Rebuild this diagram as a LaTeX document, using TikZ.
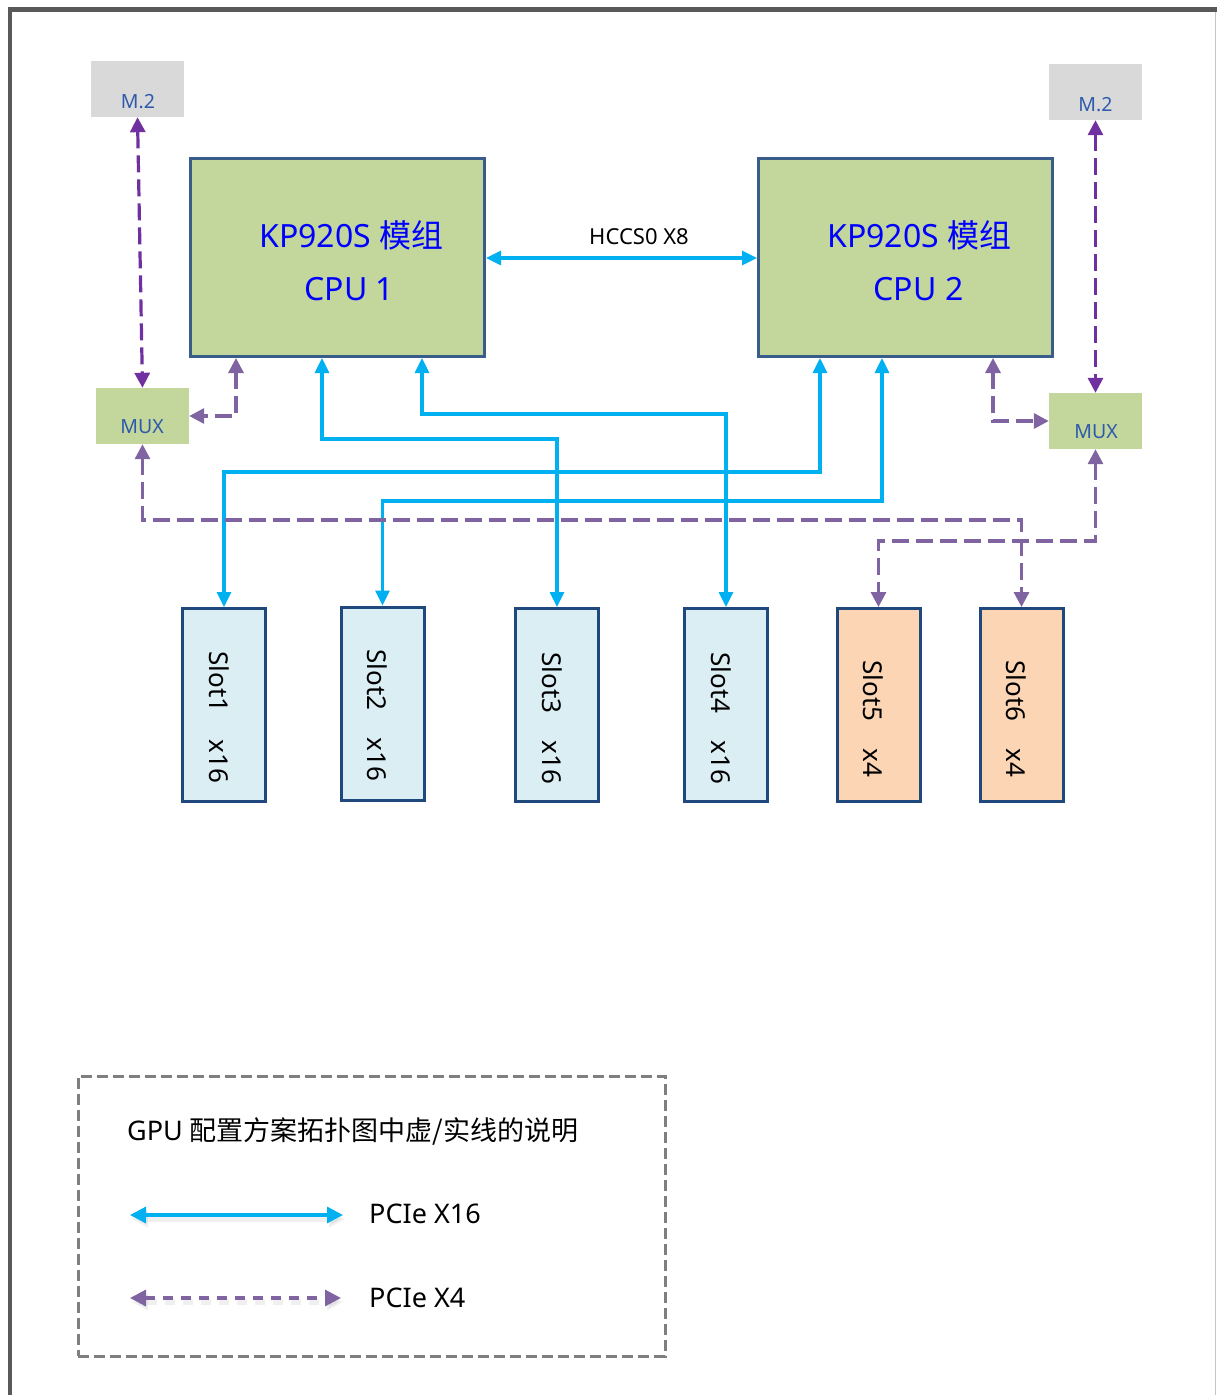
\documentclass[tikz,border=0pt]{standalone}
\usepackage{fontspec}
\setmainfont{Noto Sans}
\newfontfamily\cjk{Noto Sans CJK SC}
\usetikzlibrary{arrows.meta,calc}
\definecolor{cyanl}{HTML}{00B0F0}
\definecolor{purl}{HTML}{8064A2}
\definecolor{purd}{HTML}{7030A0}
\definecolor{cpufill}{HTML}{C3D69B}
\definecolor{cpuborder}{HTML}{385D8A}
\definecolor{m2fill}{HTML}{D9D9D9}
\definecolor{lblblue}{HTML}{2E5AAC}
\definecolor{slotfill}{HTML}{DBEEF4}
\definecolor{slotfillb}{HTML}{FCD5B5}
\definecolor{slotborder}{HTML}{1F497D}
\definecolor{framegray}{HTML}{595959}
\definecolor{leggray}{HTML}{7F7F7F}
\tikzset{
  cpubox/.style={draw=cpuborder, line width=3pt, fill=cpufill, minimum width=294pt, minimum height=198pt, inner sep=0pt},
  greybox/.style={fill=m2fill, minimum width=93pt, minimum height=56pt, inner sep=0pt},
  muxbox/.style={fill=cpufill, minimum width=93pt, minimum height=56pt, inner sep=0pt},
  slotbox/.style={draw=slotborder, line width=3pt, fill=slotfill, minimum width=83pt, minimum height=193pt, inner sep=0pt},
  slotboxb/.style={slotbox, fill=slotfillb},
  smalllbl/.style={text=lblblue, font=\fontsize{19.5}{22}\selectfont, anchor=base, inner sep=0pt},
  cputxt/.style={text=blue, font=\fontsize{32}{38}\selectfont, anchor=base, inner sep=0pt},
  linklbl/.style={font=\fontsize{22}{26}\selectfont, anchor=base, inner sep=0pt},
  slottxt/.style={rotate=-90, font=\fontsize{26}{30}\selectfont, inner sep=0pt},
  legtxt/.style={font=\fontsize{27}{32}\selectfont, anchor=base west, inner sep=0pt},
  legbox/.style={draw=leggray, line width=3pt, dash pattern=on 11pt off 5pt, minimum width=587pt, minimum height=280pt, inner sep=0pt},
  pcie/.style={draw=cyanl, line width=3.2pt, {Triangle[length=15pt,width=14pt]}-{Triangle[length=15pt,width=14pt]}},
  pciefour/.style={draw=purl, line width=3.2pt, dash pattern=on 17pt off 7pt, {Triangle[length=15pt,width=15pt]}-{Triangle[length=15pt,width=15pt]}},
  m2link/.style={pciefour, draw=purd},
  legtips/.style={{Triangle[length=16pt,width=16pt]}-{Triangle[length=16pt,width=16pt]}},
  shadowline/.style={draw=gray, opacity=0.12, line width=6pt, legtips}
}
\begin{document}
\begin{tikzpicture}[x=1pt,y=-1pt]
\useasboundingbox (0,0) rectangle (1217,1395);
% frame
\draw[framegray, line width=4.5pt] (10,1395) -- (10,9.5) -- (1217,9.5);
\draw[gray!45, line width=1.5pt] (1215.5,12) -- (1215.5,1395);

% CPU boxes
\node[cpubox] (cpu1) at (337.5,257.5) {};
\node[cpubox] (cpu2) at (905.5,257.5) {};
\node[cputxt] (cpu1a) at (351.5,247) {KP920S {\cjk 模组}};
\node[cputxt] (cpu1b) at (349.5,300) {CPU 1};
\node[cputxt] (cpu2a) at (919.5,247) {KP920S {\cjk 模组}};
\node[cputxt] (cpu2b) at (918.5,300) {CPU 2};

% M.2 and MUX
\node[greybox] (m2l) at (137.5,89) {};
\node[smalllbl] (m2lt) at (138,108) {M.2};
\node[greybox] (m2r) at (1095.5,92) {};
\node[smalllbl] (m2rt) at (1095.5,111) {M.2};
\node[muxbox] (muxl) at (142.5,416) {};
\node[smalllbl] (muxlt) at (142,433) {MUX};
\node[muxbox] (muxr) at (1095.5,421) {};
\node[smalllbl] (muxrt) at (1096,438) {MUX};

% slots
\node[slotbox] (s1) at (224,705) {};
\node[slotbox] (s2) at (382.5,703.5) {};
\node[slotbox] (s3) at (557,705) {};
\node[slotbox] (s4) at (726,705) {};
\node[slotboxb] (s5) at (878.5,705) {};
\node[slotboxb] (s6) at (1021.5,705) {};
\node[slottxt] (s1t) at (219.5,717.5) {Slot1\hspace{1.05em}x16};
\node[slottxt] (s2t) at (377.5,715.5) {Slot2\hspace{1.05em}x16};
\node[slottxt] (s3t) at (552,718.5) {Slot3\hspace{1.05em}x16};
\node[slottxt] (s4t) at (721,718.5) {Slot4\hspace{1.05em}x16};
\node[slottxt] (s5t) at (873.5,719) {Slot5\hspace{1.05em}x4};
\node[slottxt] (s6t) at (1016.5,719) {Slot6\hspace{1.05em}x4};

% HCCS link
\coordinate (h) at (0,258);
\draw[pcie] (cpu1.east |- h) -- (cpu2.west |- h);
\node[linklbl] (hl) at (639,244) {HCCS0 X8};

% PCIe x16 links
\coordinate (k1) at (322,439);
\draw[pcie] (cpu1.south -| k1) -- (k1) -| (s3.north);
\coordinate (k2) at (422,414);
\draw[pcie] (cpu1.south -| k2) -- (k2) -| (s4.north);
\coordinate (k3) at (820,472);
\draw[pcie] (cpu2.south -| k3) -- (k3) -| (s1.north);
\coordinate (k4) at (882,501);
\draw[pcie] (cpu2.south -| k4) -- (k4) -| (s2.north);

% PCIe x4 links
\draw[m2link] (m2l.south) -- (muxl.north);
\draw[m2link] (m2r.south) -- (muxr.north);
\coordinate (p1) at (236,416);
\draw[pciefour] (cpu1.south -| p1) -- (p1) -- (muxl.east);
\coordinate (p2) at (142.5,520);
\draw[pciefour] (muxl.south) -- (p2) -| (s6.north);
\coordinate (p3) at (993,421);
\draw[pciefour] (cpu2.south -| p3) -- (p3) -- (muxr.west);
\coordinate (p4) at (1095.5,541);
\draw[pciefour] (muxr.south) -- (p4) -| (s5.north);

% legend
\node[legbox] (leg) at (371.5,1216) {};
\node[legtxt] (legt) at (127,1140) {GPU {\cjk 配置方案拓扑图中虚/实线的说明}};
\coordinate (la1) at (130,1215);
\coordinate (la2) at (343,1215);
\coordinate (la1s) at (132,1219);
\coordinate (la2s) at (345,1219);
\draw[shadowline] (la1s) -- (la2s);
\draw[pcie, legtips] (la1) -- (la2);
\node[legtxt] (l16) at (369,1223) {PCIe X16};
\coordinate (lb1) at (130,1298);
\coordinate (lb2) at (341,1298);
\coordinate (lb1s) at (132,1302);
\coordinate (lb2s) at (343,1302);
\draw[shadowline, dash pattern=on 10pt off 8pt] (lb1s) -- (lb2s);
\draw[pciefour, legtips, dash pattern=on 10pt off 8pt] (lb1) -- (lb2);
\node[legtxt] (l4) at (369,1307) {PCIe X4};
\end{tikzpicture}
\end{document}
